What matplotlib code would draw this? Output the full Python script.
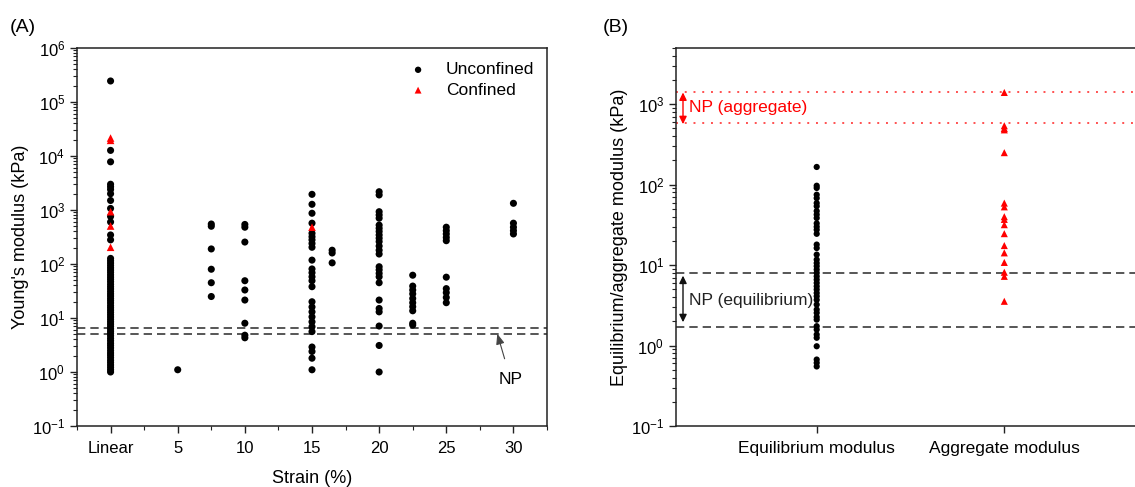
import matplotlib
matplotlib.use("Agg")
import matplotlib.pyplot as plt
import matplotlib.transforms as mtransforms
from matplotlib.ticker import LogLocator, MultipleLocator, FixedLocator, NullFormatter

plt.rcParams['font.family'] = ['Liberation Sans', 'DejaVu Sans']
plt.rcParams['mathtext.default'] = 'regular'
plt.rcParams['axes.unicode_minus'] = False

# ---------------- Data: panel A (Young's modulus, kPa) ----------------
strain_tick_pos = [0, 5, 10, 15, 20, 25, 30]
strain_tick_labels = ['Linear', '5', '10', '15', '20', '25', '30']

linear_unconfined = [245000, 12700, 7800, 3000, 2700, 2400, 2000, 1500, 1070, 760, 600,
                     345, 280, 127, 115, 104, 94, 85, 77, 70, 63, 57, 52, 47, 42, 38,
                     34.5, 31, 28, 25.5, 23, 21, 19, 17, 15.5, 14, 12.7, 11.5, 10.4, 9.4,
                     8.5, 7.7, 7.0, 6.3, 5.7, 5.2, 4.7, 4.2, 3.8, 3.4, 3.1, 2.8, 2.5,
                     2.25, 2.05, 1.85, 1.65, 1.5, 1.35, 1.22, 1.1, 1.0]
linear_confined = [21500, 19500, 930, 505, 204]
strain5 = [1.1]
strain7_5 = [550, 500, 190, 80, 45, 25]
strain10 = [540, 480, 255, 49, 33, 21.5, 8, 4.8, 4.3]
strain15_unconfined = [1950, 1275, 870, 570, 370, 320, 280, 240, 204, 118, 81, 69, 58,
                       49, 38, 20, 16, 13, 10.5, 8.5, 6.9, 5.6, 2.9, 2.4, 1.8, 1.1]
strain15_confined = [480]
strain16_5 = [180, 160, 105]
strain20 = [2180, 1900, 930, 810, 705, 525, 458, 400, 345, 300, 260, 215, 180, 153,
            89, 78, 67, 58, 45, 21.5, 15, 13, 7.1, 3.1, 1.0]
strain22_5 = [62, 39, 33, 28, 23, 19.2, 16.2, 13.6, 8, 7.4]
strain25 = [480, 415, 360, 310, 270, 57, 35, 29.5, 24, 19.2]
strain30 = [1330, 570, 480, 415, 360]

unconfined_groups = [(0, linear_unconfined), (5, strain5), (7.5, strain7_5), (10, strain10),
                     (15, strain15_unconfined), (16.5, strain16_5), (20, strain20),
                     (22.5, strain22_5), (25, strain25), (30, strain30)]
confined_groups = [(0, linear_confined), (15, strain15_confined)]

np_young = [6.5, 5.0]

# ---------------- Data: panel B ----------------
b_categories = ['Equilibrium modulus', 'Aggregate modulus']
equilibrium = [166, 97, 91, 75, 68, 59, 54, 47, 42.5, 38.5, 33, 30, 27.5, 24.5, 18, 16.3,
               13.5, 11.7, 10.6, 9.7, 8.8, 8.0, 7.25, 6.6, 6.0, 5.45, 4.97, 4.5, 4.1, 3.7,
               3.23, 2.8, 2.55, 2.27, 2.1, 1.74, 1.58, 1.37, 1.25, 0.98, 0.67, 0.61, 0.55]
aggregate = [1400, 540, 500, 480, 250, 59, 53, 40, 37, 31.8, 24.6, 17.5, 14.2, 10.8,
             8.15, 7.25, 3.55]
np_equilibrium = [8.0, 1.7]
np_aggregate = [1400, 580]

# ---------------- Figure ----------------
W, H = 1135, 487
fig = plt.figure(figsize=(W / 100, H / 100), dpi=100)

def px_axes(l, t, r, b):
    return fig.add_axes([l / W, 1 - b / H, (r - l) / W, (b - t) / H])

axA = px_axes(77, 48, 547, 426)
axB = px_axes(676, 48, 1145, 426)

spine_col = '#222222'
for ax in (axA, axB):
    for s in ax.spines.values():
        s.set_linewidth(1.1)
        s.set_color(spine_col)
    ax.set_yscale('log')
    ax.tick_params(which='major', direction='out', length=5, width=1.0, labelsize=12,
                   color=spine_col, top=False, right=False)
    ax.tick_params(which='minor', direction='out', length=3, width=0.8,
                   color=spine_col, top=False, right=False)
    ax.yaxis.set_major_locator(LogLocator(base=10, numticks=20))
    ax.yaxis.set_minor_locator(LogLocator(base=10, subs=range(2, 10), numticks=20))
    ax.yaxis.set_minor_formatter(NullFormatter())

# ----- Panel A -----
first = True
for xv, vals in unconfined_groups:
    axA.scatter([xv] * len(vals), vals, s=26, marker='o', color='black',
                edgecolors='none', zorder=3, label='Unconfined' if first else None)
    first = False
first = True
for xv, vals in confined_groups:
    axA.scatter([xv] * len(vals), vals, s=30, marker='^', color='#ff0000',
                edgecolors='none', zorder=4, label='Confined' if first else None)
    first = False

for v in np_young:
    axA.axhline(v, color='#3a3a3a', lw=1.2, ls=(0, (5, 3)), zorder=2)

axA.set_xlim(-2.5, 32.5)
axA.set_ylim(0.1, 1e6)
axA.xaxis.set_major_locator(FixedLocator(strain_tick_pos))
axA.set_xticklabels(strain_tick_labels)
axA.xaxis.set_minor_locator(MultipleLocator(2.5))
axA.xaxis.set_minor_formatter(NullFormatter())
axA.tick_params(axis='x', which='major', pad=6)
axA.set_xlabel('Strain (%)', fontsize=13, labelpad=10)
axA.set_ylabel("Young's modulus (kPa)", fontsize=13, labelpad=2)

axA.annotate('NP', xy=(28.8, 5.1), xytext=(29.8, 0.72), fontsize=12.5,
             ha='center', va='center',
             arrowprops=dict(arrowstyle='-|>,head_length=0.5,head_width=0.2',
                             color='#444444', lw=0.8, shrinkA=8, shrinkB=0))

leg = axA.legend(loc='upper right', bbox_to_anchor=(0.995, 0.99), frameon=False,
                 fontsize=12.5, handletextpad=0.6, labelspacing=0.3,
                 markerscale=0.9, borderaxespad=0.2)

fig.text(10 / W, 1 - 27 / H, '(A)', fontsize=14, ha='left', va='center')

# ----- Panel B -----
axB.scatter([1] * len(equilibrium), equilibrium, s=20, marker='o', color='black',
            edgecolors='none', zorder=3)
axB.scatter([2] * len(aggregate), aggregate, s=26, marker='^', color='#ff0000',
            edgecolors='none', zorder=3)

for v in np_equilibrium:
    axB.axhline(v, color='#3a3a3a', lw=1.2, ls=(0, (5, 3)), zorder=2)
for v in np_aggregate:
    axB.axhline(v, color='#ff5050', lw=1.4, ls=(0, (1, 3.5)), zorder=2)

axB.set_xlim(0.25, 2.75)
axB.set_ylim(0.1, 5000)
axB.xaxis.set_major_locator(FixedLocator([1, 2]))
axB.set_xticklabels(b_categories, fontsize=12.5)
axB.tick_params(axis='x', which='major', pad=6)
axB.set_ylabel('Equilibrium/aggregate modulus (kPa)', fontsize=13, labelpad=2)

trB = mtransforms.blended_transform_factory(axB.transAxes, axB.transData)
xa = 7 / 469
axB.annotate('', xy=(xa, 1400), xytext=(xa, 565), xycoords=trB, textcoords=trB,
             arrowprops=dict(arrowstyle='<|-|>,head_length=0.45,head_width=0.22',
                             color='#ff0000', lw=1.0, shrinkA=0, shrinkB=0))
axB.text(xa + 0.012, 900, 'NP (aggregate)', transform=trB, color='#ff0000',
         fontsize=12.5, ha='left', va='center')
axB.annotate('', xy=(xa, 7.4), xytext=(xa, 1.95), xycoords=trB, textcoords=trB,
             arrowprops=dict(arrowstyle='<|-|>,head_length=0.45,head_width=0.22',
                             color='#111111', lw=1.0, shrinkA=0, shrinkB=0))
axB.text(xa + 0.012, 3.6, 'NP (equilibrium)', transform=trB, color='#222222',
         fontsize=12.5, ha='left', va='center')

fig.text(603 / W, 1 - 27 / H, '(B)', fontsize=14, ha='left', va='center')

fig.savefig('out.png', dpi=100)
